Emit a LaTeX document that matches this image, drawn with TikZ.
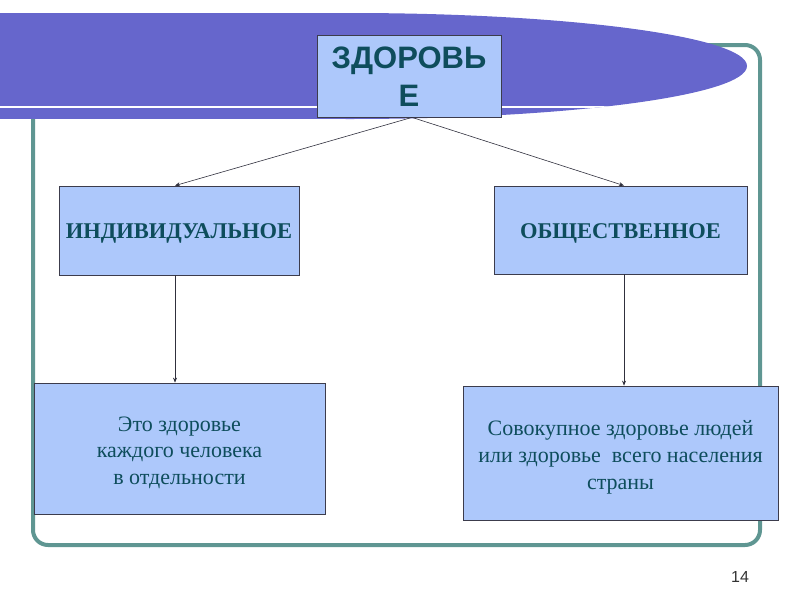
\documentclass[tikz,border=0pt]{standalone}
\usepackage{fontspec}
\setmainfont{Liberation Serif}
\newfontfamily\slidesans{Liberation Sans}
\usetikzlibrary{arrows.meta}

\definecolor{bandblue}{HTML}{6666CC}
\definecolor{boxblue}{HTML}{ADC8FB}
\definecolor{inkteal}{HTML}{0E4D5C}
\definecolor{framegreen}{HTML}{5F9692}
\definecolor{edgegray}{HTML}{3C3C4C}

\begin{document}
\begin{tikzpicture}[%
      x=1pt, y=-1pt,
      box/.style={draw=edgegray, line width=0.8pt, fill=boxblue, inner sep=0pt},
      boxtext/.style={text=inkteal, inner sep=0pt, align=center},
      link/.style={draw=edgegray!80!black, line width=0.6pt,
        -{Stealth[length=5pt,width=4pt]}},
      ]
      \useasboundingbox (0,0) rectangle (800,600);

      % frame and top band
      \draw [color=framegreen, line width=4pt, rounded corners=15pt] (33,45) rectangle (760,545);
      \fill [color=bandblue] (0,13) rectangle (350,119);
      \fill [color=bandblue] (350,66) ellipse [x radius=397pt, y radius=53pt];
      \begin{scope}
        \clip (350,66) ellipse [x radius=397pt, y radius=53pt] (0,13) rectangle (350,119);
        \draw [color=white, line width=2pt] (0,107) -- (620,107);
      \end{scope}

      % boxes
      \node [box, minimum width=184pt, minimum height=82pt] (zdr) at (409,76) {};
      \node [box, minimum width=240pt, minimum height=89pt] (ind) at (179,230.5) {};
      \node [box, minimum width=253pt, minimum height=88pt] (obs) at (620.5,230) {};
      \node [box, minimum width=291pt, minimum height=131pt] (eto) at (179.5,448.5) {};
      \node [box, minimum width=315pt, minimum height=134pt] (sov) at (620.5,453) {};

      % texts
      \node [boxtext, font=\slidesans\bfseries\fontsize{31}{38}\selectfont]
        (zdrtext) at ([yshift=-1pt]zdr.center) {ЗДОРОВЬ\\Е};
      \node [boxtext, font=\bfseries\fontsize{22.5}{26}\selectfont]
        (indtext) at ([yshift=-3pt]ind.center) {ИНДИВИДУАЛЬНОЕ};
      \node [boxtext, font=\bfseries\fontsize{22.5}{26}\selectfont]
        (obstext) at ([yshift=-3pt]obs.center) {ОБЩЕСТВЕННОЕ};
      \node [boxtext, font=\fontsize{22}{26.5}\selectfont]
        (etotext) at ([yshift=-4pt]eto.center) {Это здоровье\\каждого человека\\в отдельности};
      \node [boxtext, font=\fontsize{22}{27}\selectfont]
        (sovtext) at ([yshift=-4pt]sov.center) {Совокупное здоровье людей\\ или здоровье\ \ всего населения\\страны};

      % connectors
      \draw [link] ([xshift=3pt]zdr.south) -- ([xshift=-4pt]ind.north);
      \draw [link] ([xshift=3pt]zdr.south) -- ([xshift=3.5pt]obs.north);
      \draw [link] ([xshift=-4pt]ind.south) -- ([xshift=-4pt]ind.south |- eto.north);
      \draw [link] ([xshift=3.5pt]obs.south) -- ([xshift=3.5pt]obs.south |- sov.north);

      \node [font=\slidesans\fontsize{16}{18}\selectfont, text=black!80] (num) at (740,577) {14};
\end{tikzpicture}
\end{document}
